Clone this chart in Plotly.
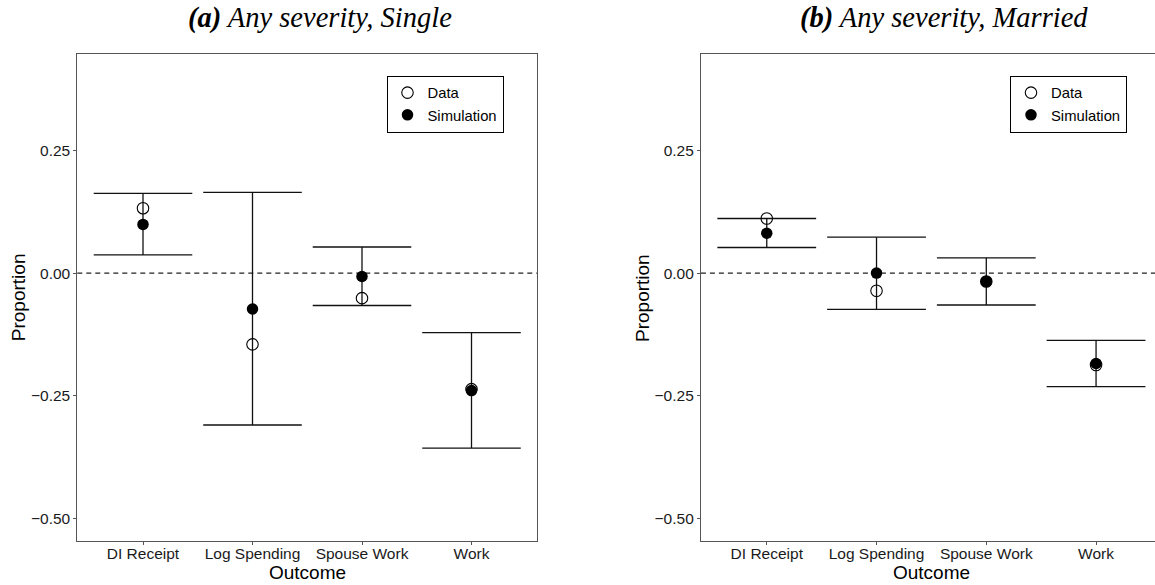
import plotly.graph_objects as go

categories = ["DI Receipt", "Log Spending", "Spouse Work", "Work"]

single_data = [0.132, -0.145, -0.051, -0.236]
single_sim = [0.099, -0.073, -0.007, -0.239]
single_lo = [0.037, -0.309, -0.066, -0.356]
single_hi = [0.162, 0.164, 0.053, -0.121]

married_data = [0.111, -0.036, -0.017, -0.187]
married_sim = [0.081, 0.000, -0.017, -0.184]
married_lo = [0.052, -0.074, -0.065, -0.231]
married_hi = [0.111, 0.073, 0.031, -0.137]

y_ticks = [0.25, 0.00, -0.25, -0.50]
y_tick_labels = ["0.25", "0.00", "\u22120.25", "\u22120.50"]

titles = ["<b><i>(a)</i></b><i> Any severity, Single</i>",
          "<b><i>(b)</i></b><i> Any severity, Married</i>"]

W, H = 1155, 585
CAP = 0.45  # half width of error bar caps in category units
FONT = "Liberation Sans, Arial, sans-serif"

fig = go.Figure()


def errbar_path(lo, hi):
    xs, ys = [], []
    for i, (a, b) in enumerate(zip(lo, hi)):
        xs += [i - CAP, i + CAP, None, i, i, None, i - CAP, i + CAP, None]
        ys += [b, b, None, a, b, None, a, a, None]
    return xs, ys


panels = [
    dict(data=single_data, sim=single_sim, lo=single_lo, hi=single_hi,
         xa="x", ya="y", legend="legend"),
    dict(data=married_data, sim=married_sim, lo=married_lo, hi=married_hi,
         xa="x2", ya="y2", legend="legend2"),
]

idx = list(range(len(categories)))
for p in panels:
    ex, ey = errbar_path(p["lo"], p["hi"])
    fig.add_trace(go.Scatter(x=ex, y=ey, mode="lines",
                             line=dict(color="#111111", width=1.3),
                             xaxis=p["xa"], yaxis=p["ya"], showlegend=False,
                             hoverinfo="skip"))
    fig.add_trace(go.Scatter(x=idx, y=p["sim"], mode="markers", name="Simulation",
                             marker=dict(symbol="circle", size=11.5, color="black"),
                             xaxis=p["xa"], yaxis=p["ya"], legend=p["legend"],
                             legendrank=2))
    fig.add_trace(go.Scatter(x=idx, y=p["data"], mode="markers", name="Data",
                             marker=dict(symbol="circle-open", size=11.5, color="black",
                                         line=dict(width=1.1)),
                             xaxis=p["xa"], yaxis=p["ya"], legend=p["legend"],
                             legendrank=1))

axis_common = dict(showgrid=False, zeroline=False, showline=True, linecolor="#555555",
                   linewidth=1, ticks="outside", ticklen=3, tickcolor="#555555",
                   tickfont=dict(family=FONT, size=15.5, color="#1a1a1a"))

yr = [-0.545, 0.445]
ydom = [1 - 541 / H, 1 - 54.3 / H]

legend_style = dict(xanchor="right", y=1 - 75.5 / H, yanchor="top",
                    bordercolor="black", borderwidth=1, bgcolor="white",
                    font=dict(family=FONT, size=14.8, color="black"),
                    tracegroupgap=0, itemwidth=30)

fig.update_layout(
    width=W, height=H, margin=dict(l=0, r=0, t=0, b=0),
    paper_bgcolor="white", plot_bgcolor="white",
    xaxis=dict(domain=[77.3 / W, 537.2 / W], range=[-0.6, 3.6], tickvals=idx,
               ticktext=categories, mirror=True, anchor="y", ticklabelstandoff=-5,
               **axis_common),
    yaxis=dict(domain=ydom, range=yr, tickvals=y_ticks, ticktext=y_tick_labels,
               mirror=True, anchor="x", **axis_common),
    xaxis2=dict(domain=[700.9 / W, 1.0], range=[-0.6, 3.537], tickvals=idx,
                ticktext=categories, mirror=True, anchor="y2", ticklabelstandoff=-5,
                **axis_common),
    yaxis2=dict(domain=ydom, range=yr, tickvals=y_ticks, ticktext=y_tick_labels,
                mirror=False, anchor="x2", **axis_common),
    legend=dict(x=503.5 / W, **legend_style),
    legend2=dict(x=1127 / W, **legend_style),
    showlegend=True,
)

# dashed zero line
for xa, ya in [("x", "y"), ("x2", "y2")]:
    fig.add_shape(type="line", xref=f"{xa} domain", yref=ya, x0=0, x1=1, y0=0, y1=0,
                  line=dict(color="#222222", width=1.2, dash="5px,4px"), layer="below")

# titles and axis titles
title_x = [320 / W, 943.6 / W]
ylab_x = [18.5 / W, 642.3 / W]
xlab_x = [307 / W, 931.3 / W]
for i in range(2):
    fig.add_annotation(text=titles[i], xref="paper", yref="paper", x=title_x[i],
                       y=1 - 18 / H, xanchor="center", yanchor="middle", showarrow=False,
                       font=dict(family="Liberation Serif, Times New Roman, serif",
                                 size=28.5, color="black"))
    fig.add_annotation(text="Proportion", xref="paper", yref="paper", x=ylab_x[i],
                       y=1 - 297.7 / H, xanchor="center", yanchor="middle", textangle=-90,
                       showarrow=False, font=dict(family=FONT, size=19, color="black"))
    fig.add_annotation(text="Outcome", xref="paper", yref="paper", x=xlab_x[i],
                       y=1 - 572.5 / H, xanchor="center", yanchor="middle",
                       showarrow=False, font=dict(family=FONT, size=19, color="black"))

fig.write_html("out.html")
